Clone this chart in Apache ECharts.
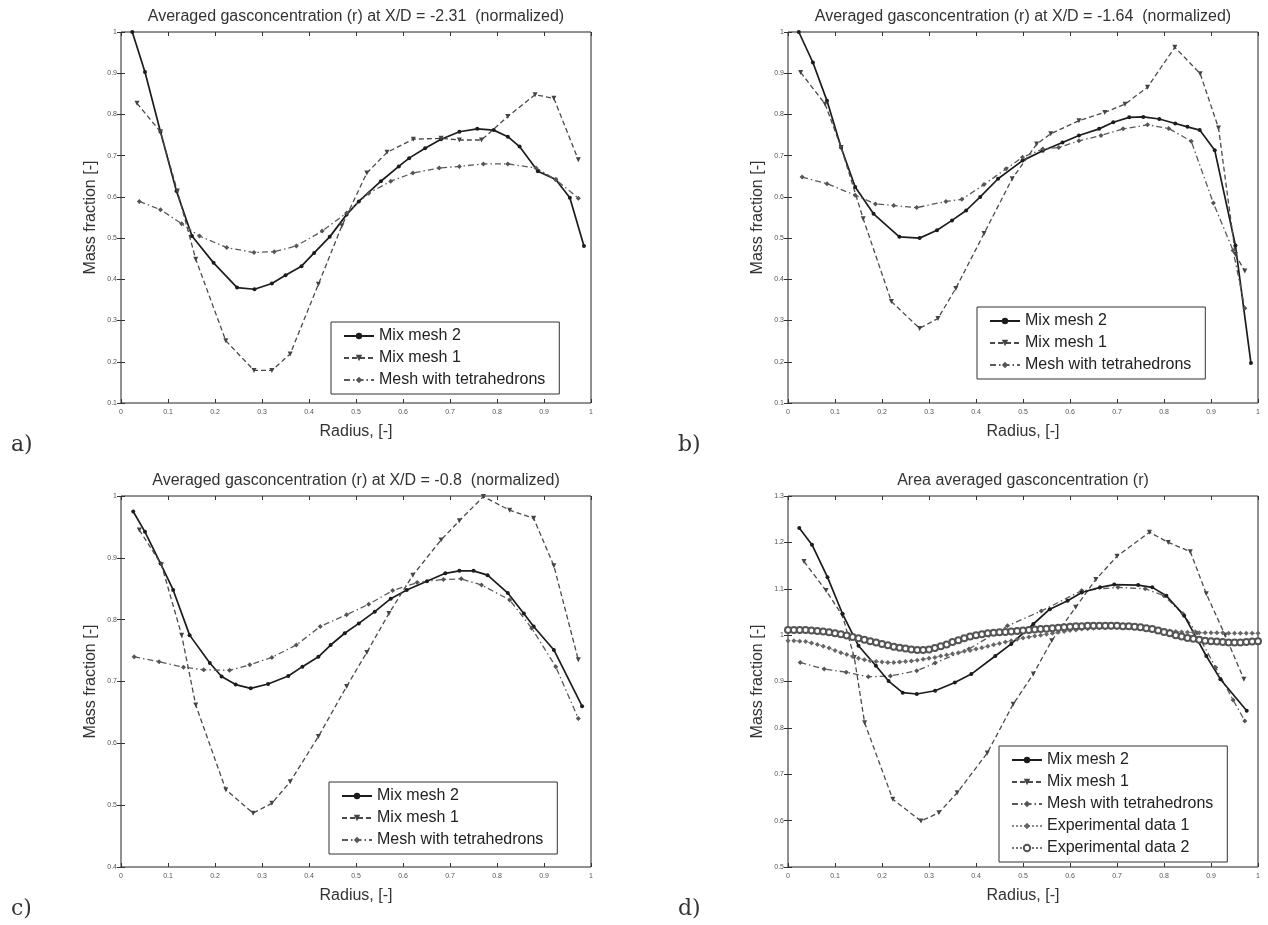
<!DOCTYPE html>
<html>
<head>
<meta charset="utf-8">
<script src="https://cdn.jsdelivr.net/npm/echarts@6/dist/echarts.min.js"></script>
<style>
    body { margin: 0; background: #fff; }
    #main { width: 1268px; height: 925px; }
</style>
</head>
<body>
<div id="main"></div>
<script>
// panel a) X/D = -2.31
var aMix2X = [0.024, 0.051, 0.084, 0.118, 0.151, 0.197, 0.247, 0.284, 0.321, 0.35, 0.384, 0.411, 0.444, 0.48, 0.506, 0.553, 0.591, 0.613, 0.647, 0.681, 0.72, 0.758, 0.793, 0.823, 0.848, 0.887, 0.925, 0.955, 0.985];
var aMix2Y = [1.0, 0.903, 0.758, 0.614, 0.505, 0.44, 0.38, 0.376, 0.39, 0.41, 0.432, 0.464, 0.503, 0.557, 0.589, 0.638, 0.674, 0.694, 0.718, 0.74, 0.758, 0.765, 0.762, 0.746, 0.722, 0.662, 0.642, 0.598, 0.481];
var aMix1X = [0.034, 0.084, 0.12, 0.159, 0.223, 0.283, 0.321, 0.36, 0.42, 0.47, 0.523, 0.566, 0.622, 0.681, 0.72, 0.767, 0.823, 0.881, 0.921, 0.973];
var aMix1Y = [0.827, 0.758, 0.614, 0.449, 0.251, 0.179, 0.179, 0.219, 0.388, 0.53, 0.658, 0.708, 0.74, 0.742, 0.738, 0.738, 0.795, 0.848, 0.839, 0.69];
var aTetX = [0.039, 0.084, 0.129, 0.167, 0.225, 0.283, 0.326, 0.373, 0.428, 0.48, 0.527, 0.574, 0.621, 0.677, 0.72, 0.771, 0.823, 0.883, 0.925, 0.973];
var aTetY = [0.589, 0.569, 0.535, 0.505, 0.477, 0.465, 0.467, 0.481, 0.517, 0.561, 0.609, 0.638, 0.658, 0.67, 0.674, 0.68, 0.68, 0.67, 0.642, 0.597];

// panel b) X/D = -1.64
var bMix2X = [0.023, 0.053, 0.083, 0.113, 0.143, 0.182, 0.237, 0.28, 0.317, 0.349, 0.379, 0.409, 0.447, 0.499, 0.542, 0.584, 0.619, 0.662, 0.692, 0.726, 0.756, 0.79, 0.824, 0.85, 0.876, 0.908, 0.952, 0.985];
var bMix2Y = [1.0, 0.926, 0.833, 0.72, 0.624, 0.559, 0.503, 0.5, 0.519, 0.543, 0.567, 0.6, 0.644, 0.688, 0.712, 0.732, 0.749, 0.765, 0.781, 0.793, 0.794, 0.789, 0.778, 0.77, 0.762, 0.713, 0.482, 0.197];
var bMix1X = [0.027, 0.079, 0.113, 0.16, 0.22, 0.28, 0.319, 0.357, 0.417, 0.477, 0.529, 0.559, 0.619, 0.674, 0.717, 0.765, 0.823, 0.877, 0.916, 0.952, 0.972];
var bMix1Y = [0.902, 0.825, 0.72, 0.547, 0.346, 0.281, 0.305, 0.378, 0.511, 0.644, 0.728, 0.753, 0.785, 0.805, 0.825, 0.866, 0.963, 0.899, 0.767, 0.46, 0.42];
var bTetX = [0.03, 0.083, 0.143, 0.186, 0.225, 0.274, 0.336, 0.37, 0.417, 0.464, 0.499, 0.542, 0.576, 0.619, 0.666, 0.713, 0.765, 0.81, 0.858, 0.905, 0.947, 0.972];
var bTetY = [0.648, 0.632, 0.604, 0.583, 0.579, 0.574, 0.589, 0.594, 0.63, 0.668, 0.696, 0.716, 0.72, 0.736, 0.749, 0.765, 0.775, 0.766, 0.735, 0.585, 0.47, 0.33];

// panel c) X/D = -0.8
var cMix2X = [0.026, 0.051, 0.084, 0.111, 0.146, 0.189, 0.214, 0.244, 0.276, 0.313, 0.356, 0.386, 0.42, 0.446, 0.476, 0.506, 0.54, 0.574, 0.608, 0.651, 0.69, 0.72, 0.75, 0.78, 0.823, 0.857, 0.878, 0.921, 0.981];
var cMix2Y = [0.975, 0.942, 0.891, 0.848, 0.775, 0.73, 0.708, 0.695, 0.689, 0.696, 0.709, 0.724, 0.74, 0.759, 0.778, 0.794, 0.813, 0.834, 0.848, 0.862, 0.875, 0.879, 0.879, 0.872, 0.843, 0.81, 0.789, 0.751, 0.66];
var cMix1X = [0.039, 0.086, 0.129, 0.159, 0.223, 0.281, 0.321, 0.36, 0.42, 0.48, 0.523, 0.57, 0.621, 0.681, 0.72, 0.771, 0.827, 0.878, 0.921, 0.973];
var cMix1Y = [0.945, 0.889, 0.775, 0.662, 0.525, 0.487, 0.503, 0.538, 0.611, 0.692, 0.747, 0.81, 0.872, 0.929, 0.96, 0.999, 0.977, 0.964, 0.887, 0.735];
var cTetX = [0.028, 0.081, 0.133, 0.176, 0.231, 0.274, 0.321, 0.373, 0.424, 0.48, 0.527, 0.578, 0.63, 0.686, 0.724, 0.767, 0.827, 0.874, 0.925, 0.973];
var cTetY = [0.74, 0.732, 0.723, 0.719, 0.718, 0.727, 0.739, 0.759, 0.789, 0.808, 0.825, 0.847, 0.86, 0.865, 0.866, 0.856, 0.832, 0.786, 0.724, 0.64];

// panel d) area averaged
var dMix2X = [0.024, 0.051, 0.084, 0.116, 0.15, 0.187, 0.214, 0.244, 0.274, 0.313, 0.355, 0.39, 0.441, 0.475, 0.522, 0.557, 0.595, 0.625, 0.664, 0.694, 0.745, 0.775, 0.805, 0.843, 0.89, 0.92, 0.976];
var dMix2Y = [1.231, 1.195, 1.125, 1.046, 0.977, 0.934, 0.901, 0.876, 0.873, 0.88, 0.898, 0.916, 0.955, 0.981, 1.024, 1.056, 1.074, 1.092, 1.103, 1.109, 1.108, 1.103, 1.085, 1.042, 0.955, 0.905, 0.837];
var dMix1X = [0.034, 0.081, 0.116, 0.141, 0.163, 0.223, 0.283, 0.321, 0.36, 0.424, 0.479, 0.522, 0.561, 0.612, 0.655, 0.7, 0.769, 0.809, 0.856, 0.89, 0.93, 0.97];
var dMix1Y = [1.159, 1.096, 1.042, 0.952, 0.811, 0.646, 0.599, 0.617, 0.66, 0.746, 0.851, 0.916, 0.988, 1.06, 1.12, 1.17, 1.222, 1.2, 1.18, 1.089, 1.0, 0.905];
var dTetX = [0.026, 0.077, 0.124, 0.171, 0.218, 0.274, 0.313, 0.385, 0.467, 0.539, 0.625, 0.702, 0.76, 0.8, 0.84, 0.87, 0.91, 0.947, 0.972];
var dTetY = [0.941, 0.927, 0.92, 0.91, 0.912, 0.923, 0.94, 0.97, 1.02, 1.052, 1.096, 1.103, 1.1, 1.085, 1.046, 1.005, 0.93, 0.86, 0.815];
var dExpX = [0, 0.0125, 0.025, 0.0375, 0.05, 0.0625, 0.075, 0.0875, 0.1, 0.1125, 0.125, 0.1375, 0.15, 0.1625, 0.175, 0.1875, 0.2, 0.2125, 0.225, 0.2375,
    0.25, 0.2625, 0.275, 0.2875, 0.3, 0.3125, 0.325, 0.3375, 0.35, 0.3625, 0.375, 0.3875, 0.4, 0.4125, 0.425, 0.4375, 0.45, 0.4625, 0.475, 0.4875,
    0.5, 0.5125, 0.525, 0.5375, 0.55, 0.5625, 0.575, 0.5875, 0.6, 0.6125, 0.625, 0.6375, 0.65, 0.6625, 0.675, 0.6875, 0.7, 0.7125, 0.725, 0.7375,
    0.75, 0.7625, 0.775, 0.7875, 0.8, 0.8125, 0.825, 0.8375, 0.85, 0.8625, 0.875, 0.8875, 0.9, 0.9125, 0.925, 0.9375, 0.95, 0.9625, 0.975, 0.9875, 1];
var dExp1Y = [0.988, 0.988, 0.987, 0.986, 0.983, 0.98, 0.976, 0.972, 0.967, 0.962, 0.958, 0.954, 0.95, 0.947, 0.945, 0.943, 0.942, 0.941, 0.941, 0.942,
    0.943, 0.944, 0.946, 0.948, 0.95, 0.952, 0.955, 0.957, 0.96, 0.962, 0.965, 0.967, 0.97, 0.973, 0.976, 0.979, 0.982, 0.985, 0.988, 0.991,
    0.994, 0.996, 0.998, 1.0, 1.002, 1.004, 1.006, 1.008, 1.01, 1.011, 1.013, 1.014, 1.015, 1.016, 1.016, 1.017, 1.017, 1.017, 1.016, 1.016,
    1.015, 1.014, 1.013, 1.012, 1.01, 1.009, 1.008, 1.007, 1.006, 1.006, 1.005, 1.005, 1.005, 1.005, 1.005, 1.004, 1.004, 1.004, 1.004, 1.004, 1.004];
var dExp2Y = [1.011, 1.011, 1.011, 1.011, 1.01, 1.009, 1.008, 1.006, 1.004, 1.002, 0.999, 0.996, 0.993, 0.99, 0.987, 0.984, 0.981, 0.978, 0.975, 0.973,
    0.971, 0.969, 0.968, 0.968, 0.969, 0.972, 0.976, 0.98, 0.985, 0.989, 0.993, 0.997, 1.0, 1.002, 1.004, 1.005, 1.006, 1.007, 1.008, 1.009,
    1.01, 1.011, 1.012, 1.013, 1.014, 1.015, 1.016, 1.017, 1.018, 1.019, 1.019, 1.02, 1.02, 1.02, 1.02, 1.02, 1.02, 1.019, 1.019, 1.018,
    1.017, 1.015, 1.013, 1.01, 1.007, 1.004, 1.0, 0.997, 0.994, 0.992, 0.99, 0.988, 0.987, 0.986, 0.985, 0.984, 0.984, 0.984, 0.985, 0.986, 0.987];

var panelTitles = [
    'Averaged gasconcentration (r) at X/D = -2.31  (normalized)',
    'Averaged gasconcentration (r) at X/D = -1.64  (normalized)',
    'Averaged gasconcentration (r) at X/D = -0.8  (normalized)',
    'Area averaged gasconcentration (r)'
];
var panelLetters = ['a)', 'b)', 'c)', 'd)'];
var yMin = [0.1, 0.1, 0.4, 0.5];
var yMax = [1, 1, 1, 1.3];

// plot boxes, px
var boxes = [
    { left: 121, top: 32, width: 470, height: 371 },
    { left: 788, top: 32, width: 470, height: 371 },
    { left: 121, top: 496, width: 470, height: 371 },
    { left: 788, top: 496, width: 470, height: 371 }
];

var FONT = 'Liberation Sans, Arial, sans-serif';

function pairs(xs, ys) {
    var out = [];
    for (var i = 0; i < xs.length; i++) {
        out.push([xs[i], ys[i]]);
    }
    return out;
}

function mix2(i, xs, ys) {
    return {
        name: 'Mix mesh 2', type: 'line', xAxisIndex: 2 * i, yAxisIndex: 2 * i,
        data: pairs(xs, ys), symbol: 'circle', symbolSize: 4, showAllSymbol: true,
        itemStyle: { color: '#1c1c1c' },
        lineStyle: { color: '#1c1c1c', width: 1.7 }
    };
}

function mix1(i, xs, ys) {
    return {
        name: 'Mix mesh 1', type: 'line', xAxisIndex: 2 * i, yAxisIndex: 2 * i,
        data: pairs(xs, ys), symbol: 'triangle', symbolRotate: 180, symbolSize: 5, showAllSymbol: true,
        itemStyle: { color: '#444' },
        lineStyle: { color: '#4a4a4a', width: 1.3, type: [5, 3] }
    };
}

function tet(i, xs, ys) {
    return {
        name: 'Mesh with tetrahedrons', type: 'line', xAxisIndex: 2 * i, yAxisIndex: 2 * i,
        data: pairs(xs, ys), symbol: 'diamond', symbolSize: 5, showAllSymbol: true,
        itemStyle: { color: '#555' },
        lineStyle: { color: '#5a5a5a', width: 1.3, type: [6, 3, 1.5, 3] }
    };
}

var xAxes = [], yAxes = [], grids = [], graphics = [], legends = [];
for (var i = 0; i < 4; i++) {
    var b = boxes[i];
    grids.push({
        left: b.left, top: b.top, width: b.width, height: b.height,
        show: true, borderColor: '#222', borderWidth: 1, backgroundColor: 'transparent'
    });
    xAxes.push({
        type: 'value', gridIndex: i, min: 0, max: 1, interval: 0.1, position: 'bottom',
        axisLine: { show: false }, splitLine: { show: false },
        axisTick: { inside: true, length: 4, lineStyle: { color: '#333' } },
        axisLabel: { fontSize: 7, color: '#555', margin: 6, fontFamily: FONT },
        name: 'Radius, [-]', nameLocation: 'middle', nameGap: 21,
        nameTextStyle: { fontSize: 16, color: '#333', fontFamily: FONT }
    });
    xAxes.push({
        type: 'value', gridIndex: i, min: 0, max: 1, interval: 0.1, position: 'top',
        axisLine: { show: false }, splitLine: { show: false }, axisLabel: { show: false },
        axisTick: { inside: true, length: 4, lineStyle: { color: '#333' } }
    });
    yAxes.push({
        type: 'value', gridIndex: i, min: yMin[i], max: yMax[i], interval: 0.1, position: 'left',
        axisLine: { show: false }, splitLine: { show: false },
        axisTick: { inside: true, length: 4, lineStyle: { color: '#333' } },
        axisLabel: { fontSize: 7, color: '#555', margin: 4, fontFamily: FONT },
        name: 'Mass fraction [-]', nameLocation: 'middle', nameGap: 22,
        nameTextStyle: { fontSize: 16, color: '#333', fontFamily: FONT }
    });
    yAxes.push({
        type: 'value', gridIndex: i, min: yMin[i], max: yMax[i], interval: 0.1, position: 'right',
        axisLine: { show: false }, splitLine: { show: false }, axisLabel: { show: false },
        axisTick: { inside: true, length: 4, lineStyle: { color: '#333' } }
    });
    graphics.push({
        type: 'text', x: b.left + b.width / 2, y: b.top - 15,
        style: { text: panelTitles[i], fill: '#333', font: '16px ' + FONT, textAlign: 'center', textVerticalAlign: 'middle' }
    });
    graphics.push({
        type: 'text', x: i % 2 === 0 ? 11 : 678, y: b.top + b.height + 42,
        style: { text: panelLetters[i], fill: '#333', font: '22px "DejaVu Serif", serif', textAlign: 'left', textVerticalAlign: 'middle' }
    });
}

var legendBase = {
    orient: 'vertical', itemWidth: 30, itemHeight: 8, itemGap: 6,
    backgroundColor: '#fff', borderColor: '#333', borderWidth: 1, borderRadius: 0,
    padding: [6, 14, 6, 12], selectedMode: false,
    textStyle: { fontSize: 16, color: '#222', fontFamily: FONT }
};
var legendPos = [
    { left: 331, top: 322 },
    { left: 977, top: 307 },
    { left: 329, top: 782 },
    { left: 999, top: 746 }
];
var legendNames = ['Mix mesh 2', 'Mix mesh 1', 'Mesh with tetrahedrons'];
for (var k = 0; k < 4; k++) {
    var lg = Object.assign({}, legendBase, legendPos[k]);
    lg.data = k === 3 ? legendNames.concat(['Experimental data 1', 'Experimental data 2']) : legendNames.slice();
    legends.push(lg);
}

var series = [
    mix2(0, aMix2X, aMix2Y), mix1(0, aMix1X, aMix1Y), tet(0, aTetX, aTetY),
    mix2(1, bMix2X, bMix2Y), mix1(1, bMix1X, bMix1Y), tet(1, bTetX, bTetY),
    mix2(2, cMix2X, cMix2Y), mix1(2, cMix1X, cMix1Y), tet(2, cTetX, cTetY),
    mix1(3, dMix1X, dMix1Y), tet(3, dTetX, dTetY),
    {
        name: 'Experimental data 1', type: 'line', xAxisIndex: 6, yAxisIndex: 6,
        data: pairs(dExpX, dExp1Y), symbol: 'diamond', symbolSize: 5, showAllSymbol: true,
        itemStyle: { color: '#666' },
        lineStyle: { color: '#888', width: 1, type: [2, 2] }
    },
    {
        name: 'Experimental data 2', type: 'line', xAxisIndex: 6, yAxisIndex: 6,
        data: pairs(dExpX, dExp2Y), symbol: 'emptyCircle', symbolSize: 6, showAllSymbol: true,
        itemStyle: { color: '#555', borderWidth: 0.8 },
        lineStyle: { color: '#777', width: 0.8, type: [2, 2] }
    },
    mix2(3, dMix2X, dMix2Y)
];

var myChart = echarts.init(document.getElementById('main'));
myChart.setOption({
    animation: false,
    backgroundColor: '#fff',
    grid: grids,
    xAxis: xAxes,
    yAxis: yAxes,
    legend: legends,
    graphic: graphics,
    series: series
});
</script>
</body>
</html>
